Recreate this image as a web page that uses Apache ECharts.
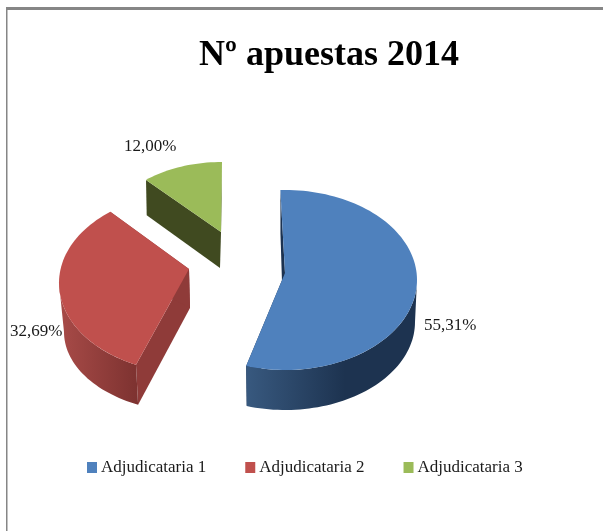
<!DOCTYPE html>
<html>
<head>
<meta charset="utf-8">
<style>
html, body { margin: 0; padding: 0; background: #fff; }
#chart { width: 603px; height: 531px; }
</style>
<script src="https://cdn.jsdelivr.net/npm/echarts@6/dist/echarts.min.js"></script>
</head>
<body>
<div id="chart"></div>
<script>
const categories = ['Adjudicataria 1', 'Adjudicataria 2', 'Adjudicataria 3'];
const shares = [55.31, 32.69, 12.00];
const faceColors = ['#4f81bd', '#c0504d', '#9bbb59'];
const wallColors = ['#1c3250', '#8f3b39', '#404a20'];
const sideFrom = ['#38597f', '#a84b48', '#404a20'];
const sideTo = ['#1d3350', '#7d3230', '#404a20'];

// the fake 3D: one top ellipse and one smaller bottom ellipse per slice
const rotate = [-2, 5.5, 0];
const apex = [[285, 273], [189, 269], [221, 232]];
const apexLow = [[283, 313], [190, 308], [220, 268]];
const topEllipse = [[285, 280, 132, 90], [191, 283, 132, 90], [222, 228, 111, 66]];
const lowEllipse = [[285, 322, 130, 88], [191, 332, 127, 80], [222, 262, 110, 64]];
const labelPos = [[424, 326], [10, 332], [124, 147]];

const total = shares.reduce((a, b) => a + b, 0);

function arcPoint(e, deg) {
  const r = deg * Math.PI / 180;
  return [e[0] + e[2] * Math.sin(r), e[1] - e[3] * Math.cos(r)];
}

function arcPoints(e, from, to) {
  const pts = [];
  const n = Math.max(2, Math.ceil(Math.abs(to - from) / 2));
  for (let i = 0; i <= n; i++) pts.push(arcPoint(e, from + (to - from) * i / n));
  return pts;
}

function renderSlice(idx) {
  return function () {
    let before = 0;
    for (let i = 0; i < idx; i++) before += shares[i];
    const a0 = before / total * 360 + rotate[idx];
    const a1 = (before + shares[idx]) / total * 360 + rotate[idx];
    const top = topEllipse[idx];
    const low = lowEllipse[idx];
    const children = [];

    // radial walls go first, the face covers most of them
    [a0, a1].forEach(function (a) {
      children.push({
        type: 'polygon',
        shape: { points: [apex[idx], arcPoint(top, a), arcPoint(low, a), apexLow[idx]] },
        style: { fill: wallColors[idx] }
      });
    });

    // outer rim, only the part facing the viewer
    const f0 = Math.max(a0, 90);
    const f1 = Math.min(a1, 270);
    if (f1 > f0) {
      const rim = arcPoints(top, f0, f1).concat(arcPoints(low, f1, f0));
      const xs = rim.map(p => p[0]);
      children.push({
        type: 'polygon',
        shape: { points: rim },
        style: {
          fill: new echarts.graphic.LinearGradient(
            idx === 0 ? Math.min(...xs) : Math.min(...xs), 0,
            idx === 0 ? 345 : Math.max(...xs), 0,
            [{ offset: 0, color: sideFrom[idx] }, { offset: 1, color: sideTo[idx] }],
            true
          )
        }
      });
    }

    children.push({
      type: 'polygon',
      shape: { points: [apex[idx]].concat(arcPoints(top, a0, a1)) },
      style: { fill: faceColors[idx] }
    });

    children.push({
      type: 'text',
      x: labelPos[idx][0],
      y: labelPos[idx][1],
      style: {
        text: shares[idx].toFixed(2).replace('.', ',') + '%',
        fill: '#1a1a1a',
        font: '17px "Liberation Sans Narrow"',
        verticalAlign: 'middle'
      }
    });

    return { type: 'group', children: children };
  };
}

const chart = echarts.init(document.getElementById('chart'), null, { renderer: 'canvas' });

chart.setOption({
  animation: false,
  backgroundColor: '#fff',
  title: {
    text: 'Nº apuestas 2014',
    left: 199,
    top: 38,
    padding: 0,
    textStyle: {
      fontFamily: 'Liberation Sans Narrow',
      fontWeight: 'bold',
      fontSize: 36,
      color: '#000'
    }
  },
  legend: {
    data: categories,
    left: 87,
    top: 459,
    padding: 0,
    icon: 'rect',
    itemWidth: 10,
    itemHeight: 11,
    itemGap: 39,
    selectedMode: false,
    textStyle: {
      fontFamily: 'Liberation Sans Narrow',
      fontSize: 17,
      color: '#1a1a1a',
      padding: [0, 0, 0, -1]
    }
  },
  graphic: [
    { type: 'rect', shape: { x: 6, y: 7, width: 597, height: 3 }, style: { fill: '#868686' } },
    { type: 'rect', shape: { x: 6, y: 7, width: 1.5, height: 524 }, style: { fill: '#868686' } }
  ],
  series: categories.map(function (name, i) {
    return {
      type: 'custom',
      name: name,
      coordinateSystem: 'none',
      itemStyle: { color: faceColors[i] },
      renderItem: renderSlice(i),
      data: [shares[i]],
      silent: true
    };
  })
});
</script>
</body>
</html>
